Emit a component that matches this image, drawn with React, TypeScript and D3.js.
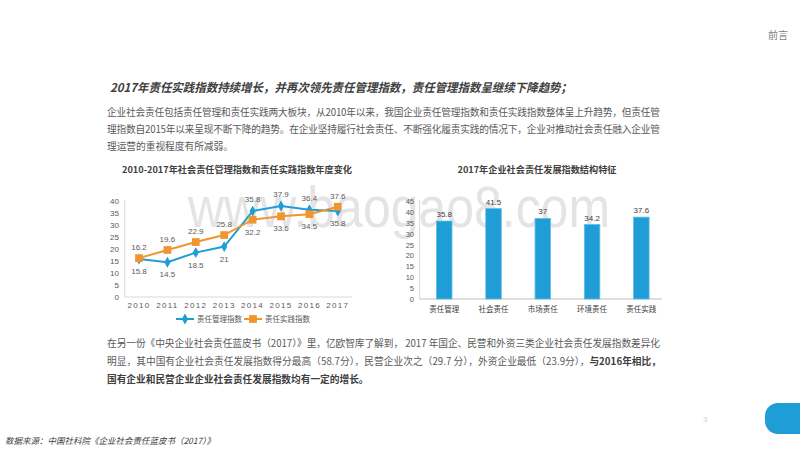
import React from 'react';
import * as d3 from 'd3';

const years = ['2010', '2011', '2012', '2013', '2014', '2015', '2016', '2017'];
const mgmtIndex = [15.8, 14.5, 18.5, 21, 35.8, 37.9, 36.4, 35.8];
const practiceIndex = [16.2, 19.6, 22.9, 25.8, 32.2, 33.6, 34.5, 37.6];
const lineTicks = [0, 5, 10, 15, 20, 25, 30, 35, 40];
const seriesNames = ['责任管理指数', '责任实践指数'];

const barCategories = ['责任管理', '社会责任', '市场责任', '环境责任', '责任实践'];
const barValues = [35.8, 41.5, 37, 34.2, 37.6];
const barTicks = [0, 5, 10, 15, 20, 25, 30, 35, 40, 45];

const headline = '2017年责任实践指数持续增长，并再次领先责任管理指数，责任管理指数呈继续下降趋势；';
const introLines = [
  '企业社会责任包括责任管理和责任实践两大板块，从2010年以来，我国企业责任管理指数和责任实践指数整体呈上升趋势，但责任管',
  '理指数自2015年以来呈现不断下降的趋势。在企业坚持履行社会责任、不断强化履责实践的情况下，企业对推动社会责任融入企业管',
  '理运营的重视程度有所减弱。',
];
const lineTitle = '2010-2017年社会责任管理指数和责任实践指数年度变化';
const barTitle = '2017年企业社会责任发展指数结构特征';
const outroLine1 = '在另一份《中央企业社会责任蓝皮书（2017）》里，亿欧智库了解到， 2017 年国企、民营和外资三类企业社会责任发展指数差异化';
const outroLine2a = '明显，其中国有企业社会责任发展指数得分最高（58.7分），民营企业次之（29.7 分），外资企业最低（23.9分），';
const outroLine2b = '与2016年相比，';
const outroLine3 = '国有企业和民营企业企业社会责任发展指数均有一定的增长。';
const sourceText = '数据来源：中国社科院《企业社会责任蓝皮书（2017）》';
const sectionLabel = '前言';
const pageNumber = '3';
const watermark = 'www.baogao8.com';

const CJK = '"Noto Sans CJK SC", "Liberation Sans", sans-serif';
const NUM = '"Liberation Sans", Arial, "Noto Sans CJK SC", sans-serif';
const BLUE = '#1f9dd6';
const ORANGE = '#f0952f';

export default function App() {
  // line chart scales
  const lx = d3.scaleBand<string>().domain(years).range([124.8, 352]);
  const lcx = (d: string) => (lx(d) as number) + lx.bandwidth() / 2;
  const ly = d3.scaleLinear().domain([0, 40]).range([297, 201]);
  const mgmtLine = d3.line<number>().x((_, i) => lcx(years[i])).y((v) => ly(v));
  const diamond = d3.symbol().type(d3.symbolDiamond).size(34)() as string;
  const square = d3.symbol().type(d3.symbolSquare).size(60)() as string;

  // bar chart scales
  const bx = d3.scaleBand<string>().domain(barCategories).range([419.6, 666]).paddingInner(0.685).paddingOuter(0.3425);
  const by = d3.scaleLinear().domain([0, 45]).range([299, 201]);

  const textGrey = '#595959';

  return (
    <svg width={800} height={450} style={{ position: 'absolute', left: 0, top: 0, background: '#fff' }}>
      <rect x={0} y={0} width={800} height={450} fill="#fff" />
      {/* header label */}
      <text x={768} y={39} fontFamily={CJK} fontSize={10} fill="#7f7f7f">{sectionLabel}</text>

      {/* headline */}
      <text x={110} y={92} fontFamily={CJK} fontSize={12} fontWeight="bold" fontStyle="italic" fill="#404040"
        textLength={462} lengthAdjust="spacingAndGlyphs">{headline}</text>
      {introLines.map((t, i) => (
        <text key={i} x={107} y={116 + i * 17} fontFamily={CJK} fontSize={9.7} fill={textGrey}
          textLength={i < 2 ? 553 : undefined} lengthAdjust="spacing">{t}</text>
      ))}

      {/* watermark */}
      <text x={188} y={227} fontFamily={NUM} fontSize={58} fill="#e4e4e4" textLength={422} lengthAdjust="spacingAndGlyphs">{watermark}</text>

      {/* line chart */}
      <text x={237} y={173} textAnchor="middle" fontFamily={CJK} fontSize={9} fontWeight="bold" fill="#404040"
        textLength={230} lengthAdjust="spacingAndGlyphs">{lineTitle}</text>
      <line x1={124.8} x2={124.8} y1={ly(40) - 1} y2={ly(0)} stroke="#d9d9d9" strokeWidth={1} />
      <line x1={124.8} x2={352} y1={ly(0)} y2={ly(0)} stroke="#d9d9d9" strokeWidth={1} />
      {lineTicks.map((t) => (
        <text key={t} x={119} y={ly(t) + 3} textAnchor="end" fontFamily={NUM} fontSize={8} fill={textGrey}>{t}</text>
      ))}
      {years.map((yr) => (
        <text key={yr} x={lcx(yr)} y={308} textAnchor="middle" fontFamily={NUM} fontSize={8} letterSpacing={1.3} fill={textGrey}>{yr}</text>
      ))}
      <path d={mgmtLine(mgmtIndex) as string} fill="none" stroke={BLUE} strokeWidth={2} />
      <path d={mgmtLine(practiceIndex) as string} fill="none" stroke={ORANGE} strokeWidth={2} />
      {mgmtIndex.map((v, i) => (
        <path key={'m' + i} d={diamond} transform={`translate(${lcx(years[i])},${ly(v)})`} fill={BLUE} />
      ))}
      {practiceIndex.map((v, i) => (
        <path key={'p' + i} d={square} transform={`translate(${lcx(years[i])},${ly(v)})`} fill={ORANGE} />
      ))}
      {mgmtIndex.map((v, i) => {
        const above = v > practiceIndex[i];
        const yy = ly(v) + (above ? -12 : 12) + 3;
        return (
          <text key={'ml' + i} x={lcx(years[i])} y={yy} textAnchor="middle" fontFamily={NUM} fontSize={8} fill={textGrey}>{v}</text>
        );
      })}
      {practiceIndex.map((v, i) => {
        const above = v >= mgmtIndex[i];
        const yy = ly(v) + (above ? -11 : 12) + 3;
        return (
          <text key={'pl' + i} x={lcx(years[i])} y={yy} textAnchor="middle" fontFamily={NUM} fontSize={8} fill={textGrey}>{v}</text>
        );
      })}
      {/* legend */}
      <line x1={176} x2={194} y1={319} y2={319} stroke={BLUE} strokeWidth={2} />
      <path d={diamond} transform="translate(185,319)" fill={BLUE} />
      <text x={197} y={322} fontFamily={CJK} fontSize={7.5} fill={textGrey}>{seriesNames[0]}</text>
      <line x1={244} x2={262} y1={319} y2={319} stroke={ORANGE} strokeWidth={2} />
      <path d={square} transform="translate(253,319)" fill={ORANGE} />
      <text x={265} y={322} fontFamily={CJK} fontSize={7.5} fill={textGrey}>{seriesNames[1]}</text>

      {/* bar chart */}
      <text x={537} y={173} textAnchor="middle" fontFamily={CJK} fontSize={9} fontWeight="bold" fill="#404040"
        textLength={159} lengthAdjust="spacingAndGlyphs">{barTitle}</text>
      <line x1={419.6} x2={419.6} y1={by(45) - 1} y2={by(0)} stroke="#d9d9d9" strokeWidth={1} />
      <line x1={419.6} x2={662} y1={by(0)} y2={by(0)} stroke="#bfbfbf" strokeWidth={1} />
      {barTicks.map((t) => (
        <text key={t} x={414} y={by(t) + 3} textAnchor="end" fontFamily={NUM} fontSize={7.5} fill={textGrey}>{t}</text>
      ))}
      {barCategories.map((c, i) => (
        <g key={c}>
          <rect x={bx(c)} y={by(barValues[i])} width={bx.bandwidth()} height={by(0) - by(barValues[i])}
            fill={BLUE} stroke="#63bde6" strokeWidth={0.8} />
          <text x={(bx(c) as number) + bx.bandwidth() / 2} y={by(barValues[i]) - 4} textAnchor="middle"
            fontFamily={NUM} fontSize={8} fill="#404040">{barValues[i]}</text>
          <text x={(bx(c) as number) + bx.bandwidth() / 2} y={312} textAnchor="middle"
            fontFamily={CJK} fontSize={7.5} fill="#404040">{c}</text>
        </g>
      ))}

      {/* lower paragraph */}
      <text x={107} y={347} fontFamily={CJK} fontSize={9.7} fill={textGrey} textLength={553} lengthAdjust="spacing">{outroLine1}</text>
      <text x={107} y={365} fontFamily={CJK} fontSize={9.7} fill={textGrey} textLength={554} lengthAdjust="spacing">
        {outroLine2a}
        <tspan fontWeight="bold" fill="#404040">{outroLine2b}</tspan>
      </text>
      <text x={107} y={383} fontFamily={CJK} fontSize={9.7} fontWeight="bold" fill="#404040">{outroLine3}</text>

      {/* footer */}
      <text x={703} y={422} fontFamily={NUM} fontSize={8} fill="#d0d0d0">{pageNumber}</text>
      <rect x={765} y={403} width={60} height={31} rx={13} fill={BLUE} />
      <text x={5} y={444} fontFamily={CJK} fontSize={8.5} fontStyle="italic" fill="#404040"
        textLength={210} lengthAdjust="spacingAndGlyphs">{sourceText}</text>
    </svg>
  );
}
